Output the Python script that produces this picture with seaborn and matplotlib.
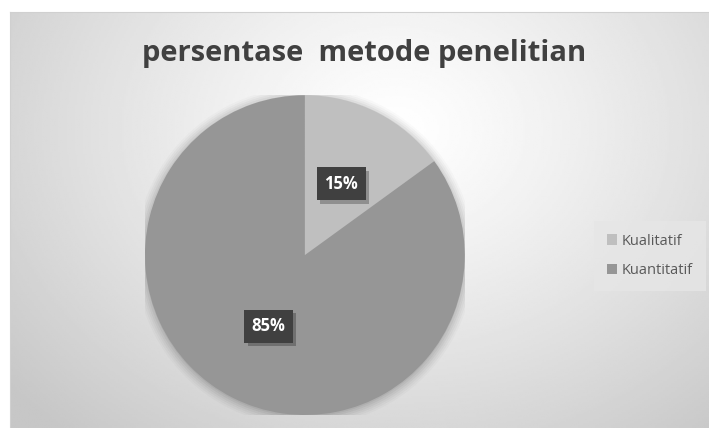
import numpy as np
import matplotlib
matplotlib.use("Agg")
import matplotlib.pyplot as plt
import matplotlib.patheffects as pe
import seaborn as sns

categories = ["Kualitatif", "Kuantitatif"]
values = [15, 85]
slice_colors = ["#bfbfbf", "#969696"]

sns.set_theme(style="white")
plt.rcParams["font.family"] = ["Open Sans", "DejaVu Sans"]

fig = plt.figure(figsize=(7.09, 4.28), dpi=100)
fig.patch.set_facecolor("white")

# chart area with a soft radial gradient
bg = fig.add_axes([10 / 709, 0, 699 / 709, 416 / 428])
h, w = 200, 340
yy, xx = np.mgrid[0:h, 0:w]
dx = xx / w - 0.55
dy = (yy / h - 0.28) * 0.75
d = np.clip(np.sqrt(dx ** 2 + dy ** 2) / 0.72, 0, 1)
shade = 1.0 - 0.22 * d ** 1.2
bg.imshow(shade, cmap="gray", vmin=0, vmax=1, aspect="auto", extent=[0, 1, 0, 1])
bg.set_xticks([])
bg.set_yticks([])
for s in bg.spines.values():
    s.set_color("#d0d0d0")
    s.set_linewidth(0.8)
bg.spines["right"].set_visible(False)
bg.spines["bottom"].set_visible(False)

fig.text(0.514, 0.875, "persentase  metode penelitian", ha="center", va="center",
         fontsize=21, fontweight="bold", color="#404040")

ax = fig.add_axes([0.2045, 0.030, 0.451, 0.748])
ax.set_facecolor("none")

# soft shadow around the pie
for k, a in zip(np.linspace(1.06, 1.0, 6), np.linspace(0.02, 0.05, 6)):
    ax.add_patch(plt.Circle((0.0, -0.01), k, color="black", alpha=a, lw=0))

wedges, texts, autotexts = ax.pie(
    values, colors=slice_colors, startangle=90, counterclock=False,
    autopct="%d%%", pctdistance=0.5, wedgeprops=dict(linewidth=0),
    textprops=dict(color="white", fontsize=12, fontweight="bold"),
)
for t in autotexts:
    t.set_bbox(dict(boxstyle="square,pad=0.45", fc="#404040", ec="none"))
    t.get_bbox_patch().set_path_effects([
        pe.SimplePatchShadow(offset=(2.5, -2.5), shadow_rgbFace="black", alpha=0.25),
        pe.Normal(),
    ])
    t.set_zorder(3)
ax.set_xlim(-1, 1)
ax.set_ylim(-1, 1)
ax.axis("off")

leg = fig.legend(wedges, categories, loc="center left",
                 bbox_to_anchor=(598 / 709, 1 - 256 / 428), frameon=True,
                 fontsize=10.5, handlelength=0.7, handleheight=0.7,
                 handletextpad=0.3, labelspacing=1.0, borderpad=0.6,
                 borderaxespad=0)
leg.get_frame().set_facecolor("#e6e6e6")
leg.get_frame().set_edgecolor("none")
leg.get_frame().set_boxstyle("square")
for t in leg.get_texts():
    t.set_color("#595959")

fig.savefig("out.png", dpi=100)
